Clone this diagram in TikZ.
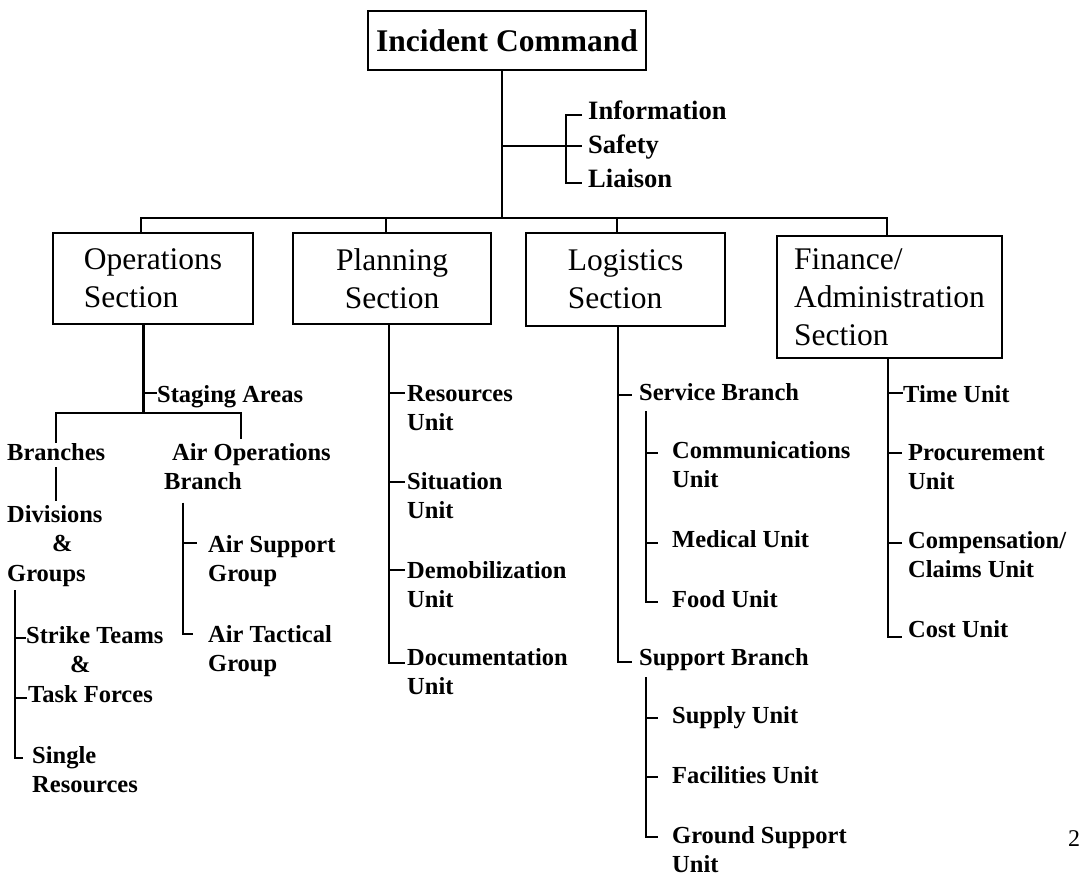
\documentclass[tikz,border=0pt]{standalone}
\usepackage{fontspec}
\setmainfont{Liberation Serif}
\newcommand{\ml}[1]{\begin{tabular}[t]{@{}l@{}}#1\end{tabular}}
\begin{document}
\begin{tikzpicture}[x=1pt,y=-1pt,
  conn/.style={line width=2.2pt},
  secbox/.style={draw, line width=2.6pt, inner sep=0pt, align=left,
    font=\fontsize{31.5}{38}\selectfont},
  lbl/.style={inner sep=0pt, anchor=base west,
    font=\bfseries\fontsize{24.5}{29.5}\selectfont},
  staff/.style={inner sep=0pt, anchor=base west,
    font=\bfseries\fontsize{26.5}{32}\selectfont}]
\useasboundingbox (0,0) rectangle (1081,886);

% ---- boxes ----
\node[secbox, align=center, font=\bfseries\fontsize{31.5}{38}\selectfont,
  minimum width=278pt, minimum height=59pt] (ic) at (507,40.5) {Incident Command};
\node[secbox, minimum width=200pt, minimum height=91pt] (ops) at (153,278.5) {Operations\\Section};
\node[secbox, align=center, minimum width=198pt, minimum height=91pt] (plan) at (392,278.5) {Planning\\Section};
\node[secbox, minimum width=199pt, minimum height=93pt] (log) at (625.5,279.5) {Logistics\\Section};
\node[secbox, minimum width=225pt, minimum height=122pt] (fin) at (889.5,297) {Finance/\\Administration\\Section};

% ---- command staff ----
\node[staff] (info) at (588,119) {Information};
\node[staff] (safety) at (588,153) {Safety};
\node[staff] (liaison) at (588,187) {Liaison};

% ---- operations ----
\node[lbl] (stg) at (157,402) {Staging Areas};
\node[lbl] (branches) at (7,460) {Branches};
\node[lbl] (divs) at (7,522) {\ml{Divisions\\\hspace*{45pt}\&\\Groups}};
\node[lbl] (strike) at (26,643) {\ml{Strike Teams\\\hspace*{44pt}\&\\\hspace*{2pt}Task Forces}};
\node[lbl] (single) at (32,763) {\ml{Single\\Resources}};
\node[lbl] (aob) at (164,460) {\ml{\hspace*{8pt}Air Operations\\Branch}};
\node[lbl] (asg) at (208,552) {\ml{Air Support\\Group}};
\node[lbl] (atg) at (208,642) {\ml{Air Tactical\\Group}};

% ---- planning ----
\node[lbl] (res) at (407,401) {\ml{Resources\\Unit}};
\node[lbl] (sit) at (407,489) {\ml{Situation\\Unit}};
\node[lbl] (demob) at (407,578) {\ml{Demobilization\\Unit}};
\node[lbl] (doc) at (407,665) {\ml{Documentation\\Unit}};

% ---- logistics ----
\node[lbl] (svc) at (639,400) {Service Branch};
\node[lbl] (com) at (672,458) {\ml{Communications\\Unit}};
\node[lbl] (med) at (672,547) {Medical Unit};
\node[lbl] (food) at (672,607) {Food Unit};
\node[lbl] (supb) at (639,665) {Support Branch};
\node[lbl] (supply) at (672,723) {Supply Unit};
\node[lbl] (fac) at (672,783) {Facilities Unit};
\node[lbl] (gnd) at (672,843) {\ml{Ground Support\\Unit}};

% ---- finance ----
\node[lbl] (timeu) at (903,402) {Time Unit};
\node[lbl] (proc) at (908,460) {\ml{Procurement\\Unit}};
\node[lbl] (comp) at (908,548) {\ml{Compensation/\\Claims Unit}};
\node[lbl] (cost) at (908,637) {Cost Unit};

% page number
\node[inner sep=0pt, anchor=base west, font=\fontsize{24}{29}\selectfont] (pg) at (1068,846) {2};

% ---- coordinates ----
\coordinate (icbar) at (502,218);
\coordinate (stj) at (502,146);
\coordinate (brT) at (566,115);
\coordinate (brM) at (566,146);
\coordinate (brB) at (566,183);
\coordinate (barL) at (141,218);
\coordinate (barR) at (887,218);
\coordinate (pj) at (386,218);
\coordinate (lj) at (617,218);

\coordinate (ov) at (143.5,413);
\coordinate (ostg) at (143.5,393);
\coordinate (brj) at (56,413);
\coordinate (aoj) at (241,413);
\coordinate (g1) at (15,638);
\coordinate (g2) at (15,698);
\coordinate (g3) at (15,758);
\coordinate (a1) at (183,543);
\coordinate (a2) at (183,634);

\coordinate (p1) at (389,393);
\coordinate (p2) at (389,482);
\coordinate (p3) at (389,570);
\coordinate (p4) at (389,663);

\coordinate (l1) at (618,395);
\coordinate (l2) at (618,662);
\coordinate (s1) at (646,453);
\coordinate (s2) at (646,543);
\coordinate (s3) at (646,602);
\coordinate (u1) at (646,718);
\coordinate (u2) at (646,777);
\coordinate (u3) at (646,837);

\coordinate (f1) at (888,393);
\coordinate (f2) at (888,453);
\coordinate (f3) at (888,543);
\coordinate (f4) at (888,637);

% ---- connectors ----
\draw[conn] (ic.south -| icbar) -- (icbar);
\draw[conn] (stj) -- (brM) -- ([xshift=-6pt]brM -| safety.west);
\draw[conn] ([xshift=-6pt]brT -| info.west) -- (brT) -- (brB) -- ([xshift=-6pt]brB -| liaison.west);
\draw[conn] (ops.north -| barL) -- (barL) -- (barR) -- (fin.north -| barR);
\draw[conn] (pj) -- (plan.north -| pj);
\draw[conn] (lj) -- (log.north -| lj);

% operations
\draw[conn] (ops.south -| ov) -- (ov);
\draw[conn] (ostg) -- (ostg -| stg.west);
\draw[conn] (branches.north -| brj) -- (brj) -- (aoj) -- (aob.north -| aoj);
\draw[conn] (branches.south -| brj) ++(0,7) -- (divs.north -| brj);
\draw[conn] (divs.south -| g1) -- (g3) -- ([xshift=-9pt]g3 -| single.west);
\draw[conn] (g1) -- (g1 -| strike.west);
\draw[conn] (g2) -- ([xshift=1pt]g2 -| strike.west);
\draw[conn] (aob.south -| a1) ++(0,4) -- (a2) -- ([xshift=-15pt]a2 -| atg.west);
\draw[conn] (a1) -- ([xshift=-11pt]a1 -| asg.west);

% planning
\draw[conn] (plan.south -| p1) -- (p4) -- ([xshift=-2pt]p4 -| doc.west);
\draw[conn] (p1) -- ([xshift=-2pt]p1 -| res.west);
\draw[conn] (p2) -- ([xshift=-2pt]p2 -| sit.west);
\draw[conn] (p3) -- ([xshift=-2pt]p3 -| demob.west);

% logistics
\draw[conn] (log.south -| l1) -- (l2) -- ([xshift=-7pt]l2 -| supb.west);
\draw[conn] (l1) -- ([xshift=-7pt]l1 -| svc.west);
\draw[conn] (svc.south -| s1) ++(0,11) -- (s3) -- ([xshift=-14pt]s3 -| food.west);
\draw[conn] (s1) -- ([xshift=-14pt]s1 -| com.west);
\draw[conn] (s2) -- ([xshift=-14pt]s2 -| med.west);
\draw[conn] (supb.south -| u1) ++(0,7) -- (u3) -- ([xshift=-14pt]u3 -| gnd.west);
\draw[conn] (u1) -- ([xshift=-14pt]u1 -| supply.west);
\draw[conn] (u2) -- ([xshift=-14pt]u2 -| fac.west);

% finance
\draw[conn] (fin.south -| f1) -- (f4) -- ([xshift=-6pt]f4 -| cost.west);
\draw[conn] (f1) -- (f1 -| timeu.west);
\draw[conn] (f2) -- ([xshift=-6pt]f2 -| proc.west);
\draw[conn] (f3) -- ([xshift=-6pt]f3 -| comp.west);
\end{tikzpicture}
\end{document}
